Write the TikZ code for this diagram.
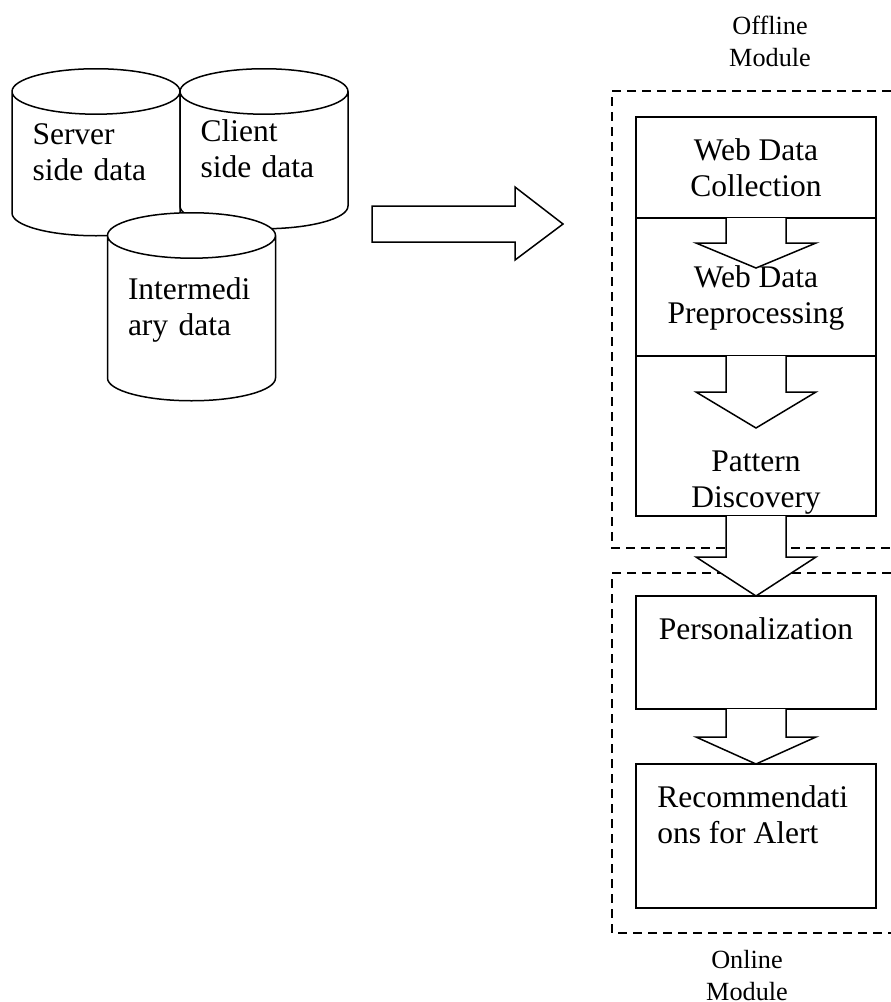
\documentclass[tikz,border=0pt]{standalone}
\usepackage{fontspec}
\setmainfont{Liberation Serif}
\usetikzlibrary{shapes,arrows,positioning,calc}
\tikzset{stage/.style={draw, rectangle, line width=1.5pt, minimum width=240pt,
    outer sep=0pt, inner sep=0pt, align=center, font=\fontsize{31.5}{36}\selectfont}}
\tikzset{store/.style={draw, cylinder, shape border rotate=90, aspect=0.34, fill=white,
    line width=1.5pt, minimum width=168pt, anchor=north, text width=127pt, align=left,
    text depth=66pt, font=\fontsize{31.5}{36}\selectfont}}
\tikzset{txt/.style={inner sep=0pt, align=center, font=\fontsize{31.5}{36}\selectfont}}
\tikzset{modtxt/.style={inner sep=0pt, align=center, font=\fontsize{26.25}{32}\selectfont}}
\tikzset{module/.style={dash pattern=on 9pt off 6pt, line width=1.5pt}}
\tikzset{pics/blkdown/.style n args={2}{code={
    \filldraw[fill=white, line width=1.5pt] (-30,0) -- (-30,#1) -- (-60,#1) -- (0,#2)
       -- (60,#1) -- (30,#1) -- (30,0);}}}

\begin{document}
\begin{tikzpicture}[x=1pt,y=-1pt,semithick]
   \useasboundingbox (0,0) rectangle (891,1002);

   % data sources
   \node[store, minimum height=167pt] (srv) at (96,68) {Server\\side data};
   \node[store, minimum height=160pt] (cli) at (264,68) {Client\\side data};
   \node[store, minimum height=188pt] (itm) at (191.5,212) {Intermedi\\ary data};

   \coordinate (feed) at (372,224);
   \filldraw[fill=white, line width=1.5pt] (feed) -- ++(0,-18) -- ++(143,0) -- ++(0,-19)
      -- ++(48,37) -- ++(-48,36) -- ++(0,-18) -- ++(-143,0) -- cycle;

   % modules
   \node[modtxt] (offl) at (770,41) {Offline\\Module};
   \node[modtxt] (onl)  at (747,976) {Online\\Module};
   \draw[module] (891,91) -| (612,548) -- (891,548);
   \draw[module] (891,573) -| (612,933) -- (891,933);

   \node[stage, minimum height=101pt] (coll) at (756,167.5) {Web Data\\Collection};
   \node[stage, minimum height=138pt, below=0pt of coll,
         label={[txt,yshift=-11pt]center:{Web Data\\Preprocessing}}] (prep) {};
   \node[stage, minimum height=160pt, below=0pt of prep,
         label={[txt,yshift=-47pt]center:{Pattern\\Discovery}}] (pat) {};
   \node[stage, minimum height=113pt, below=80pt of pat,
         label={[txt,yshift=24pt]center:{Personalization}}] (pers) {};
   \node[stage, minimum height=144pt, below=55pt of pers,
         label={[txt,align=left,anchor=west,xshift=21pt,yshift=21pt]west:{Recommendati\\ons for Alert}}] (rec) {};

   \pic at (coll.south) {blkdown={25}{50}};
   \pic at (prep.south) {blkdown={36}{72}};
   \pic at (pat.south)  {blkdown={41}{80}};
   \pic at (pers.south) {blkdown={28}{55}};
\end{tikzpicture}
\end{document}
